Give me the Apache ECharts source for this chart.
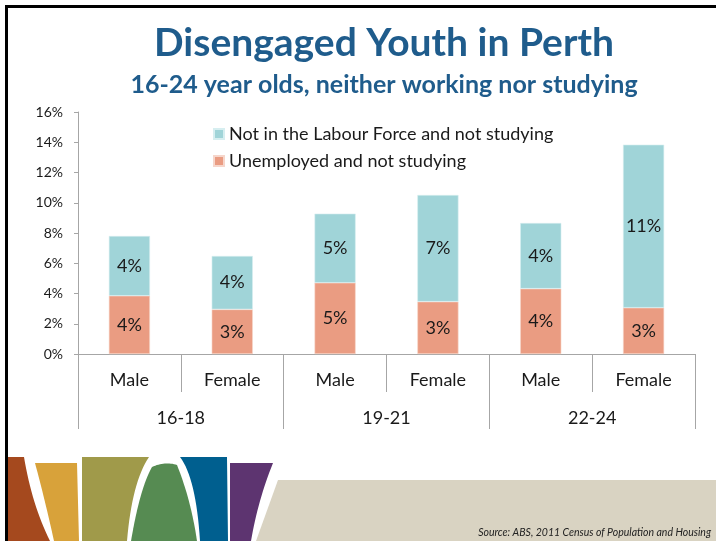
<!DOCTYPE html>
<html>
<head>
<meta charset="utf-8">
<style>
  html, body { margin: 0; padding: 0; background: #ffffff; }
  #chart { width: 716px; height: 541px; }
</style>
<script src="https://cdn.jsdelivr.net/npm/echarts@6/dist/echarts.min.js"></script>
</head>
<body>
<div id="chart"></div>
<script>
// Sex within each age band, and the age bands themselves
const sexLabels = ['Male', 'Female', 'Male', 'Female', 'Male', 'Female'];
const ageGroups = ['16-18', '19-21', '22-24'];

// Share of each group (%)
const unemployedNotStudying = [3.85, 2.95, 4.71, 3.46, 4.32, 3.06];
const notInLabourForceNotStudying = [3.95, 3.53, 4.57, 7.05, 4.34, 10.78];

const yTicks = { min: 0, max: 16, interval: 2 };

const seriesNames = ['Not in the Labour Force and not studying', 'Unemployed and not studying'];

const FONT = 'Lato, "Noto Sans", sans-serif';
const TEXT = '#1a1a1a';
const AXIS = '#a6a6a6';

// Footer ribbon outlines: straight segments plus quadratic curves sampled to points
function ribbon(segments) {
  const pts = [];
  segments.forEach(seg => {
    if (seg.length === 2) {
      pts.push(seg);
    } else {
      const [p0, c, p1] = seg;
      for (let i = 0; i <= 16; i++) {
        const t = i / 16, u = 1 - t;
        pts.push([
          u * u * p0[0] + 2 * u * t * c[0] + t * t * p1[0],
          u * u * p0[1] + 2 * u * t * c[1] + t * t * p1[1]
        ]);
      }
    }
  });
  return pts;
}

const ribbons = [
  { fill: '#A5491E', pts: ribbon([[8, 457], [[24, 457], [32, 505], [50, 541]], [8, 541]]) },
  { fill: '#D8A23A', pts: ribbon([[35, 463], [77, 463], [79, 541], [[54, 541], [45, 500], [35, 463]]]) },
  { fill: '#A09A4A', pts: ribbon([[82, 457], [[149, 457], [132, 482], [127, 541]], [82, 541]]) },
  { fill: '#568B52', pts: ribbon([[[131, 541], [140, 488], [152, 467]], [[152, 467], [165, 461], [177, 465]], [[177, 465], [191, 500], [197, 541]]]) },
  { fill: '#005F8F', pts: ribbon([[180, 457], [227, 457], [228, 541], [[200, 541], [196, 478], [180, 457]]]) },
  { fill: '#5D3470', pts: ribbon([[230, 463], [[273, 463], [258, 500], [251, 541]], [230, 541]]) },
  { fill: '#D9D3C2', pts: ribbon([[278, 480], [716, 480], [716, 541], [256, 541]]) }
];

const chart = echarts.init(document.getElementById('chart'), null, { renderer: 'canvas' });

const pctLabel = {
  show: true,
  position: 'inside',
  fontFamily: FONT,
  fontSize: 18,
  color: TEXT,
  formatter: p => Math.round(p.value) + '%'
};

chart.setOption({
  animation: false,
  backgroundColor: '#ffffff',
  title: [
    {
      text: 'Disengaged Youth in Perth',
      left: 379, top: 19, textAlign: 'center',
      textStyle: { fontFamily: FONT, fontWeight: 'bold', fontSize: 39, color: '#1F5C8C' }
    },
    {
      text: '16-24 year olds, neither working nor studying',
      left: 379, top: 67, textAlign: 'center',
      textStyle: { fontFamily: FONT, fontWeight: 'bold', fontSize: 25, color: '#1F5C8C' }
    }
  ],
  legend: {
    data: seriesNames,
    orient: 'vertical',
    left: 213, top: 125,
    padding: 0,
    itemWidth: 10, itemHeight: 10,
    itemGap: 9,
    icon: 'rect',
    textStyle: { fontFamily: FONT, fontSize: 18, color: TEXT, lineHeight: 18 }
  },
  grid: { left: 78, right: 21, top: 112, bottom: 187 },
  xAxis: [
    {
      type: 'category',
      data: sexLabels,
      position: 'bottom',
      axisLine: { show: true, lineStyle: { color: AXIS, width: 1 } },
      axisTick: { show: true, interval: 0, length: 38, lineStyle: { color: AXIS } },
      axisLabel: { interval: 0, margin: 17, fontFamily: FONT, fontSize: 18, color: TEXT }
    },
    {
      type: 'category',
      data: ageGroups,
      position: 'bottom',
      axisLine: { show: false },
      axisTick: { show: true, interval: 0, length: 75, lineStyle: { color: AXIS } },
      axisLabel: { interval: 0, margin: 55, fontFamily: FONT, fontSize: 18, color: TEXT }
    }
  ],
  yAxis: {
    type: 'value',
    min: yTicks.min, max: yTicks.max, interval: yTicks.interval,
    axisLine: { show: true, lineStyle: { color: AXIS } },
    axisTick: { show: true, length: 4, lineStyle: { color: AXIS } },
    splitLine: { show: false },
    axisLabel: { margin: 15, fontFamily: FONT, fontSize: 14, color: TEXT, formatter: v => v + '%' }
  },
  series: [
    {
      name: seriesNames[1],
      type: 'bar',
      stack: 'total',
      xAxisIndex: 0,
      barWidth: '40%',
      data: unemployedNotStudying,
      itemStyle: { color: '#EA9C82', borderColor: '#f6d6cb', borderWidth: 0.6 },
      label: pctLabel
    },
    {
      name: seriesNames[0],
      type: 'bar',
      stack: 'total',
      xAxisIndex: 0,
      barWidth: '40%',
      data: notInLabourForceNotStudying,
      itemStyle: { color: '#A0D4D8', borderColor: '#d6eef0', borderWidth: 0.6 },
      label: pctLabel
    }
  ],
  graphic: [
    // slide frame
    { type: 'rect', shape: { x: 5, y: 5, width: 3, height: 536 }, style: { fill: '#000' }, silent: true },
    { type: 'rect', shape: { x: 5, y: 5, width: 711, height: 3 }, style: { fill: '#000' }, silent: true }
  ].concat(ribbons.map(r => ({
    type: 'polygon', shape: { points: r.pts }, style: { fill: r.fill }, silent: true
  }))).concat([
    {
      type: 'text', right: 5, top: 527,
      style: {
        text: 'Source: ABS, 2011 Census of Population and Housing',
        font: 'italic 10.5px ' + FONT, fill: '#222'
      },
      silent: true
    }
  ])
});
</script>
</body>
</html>
